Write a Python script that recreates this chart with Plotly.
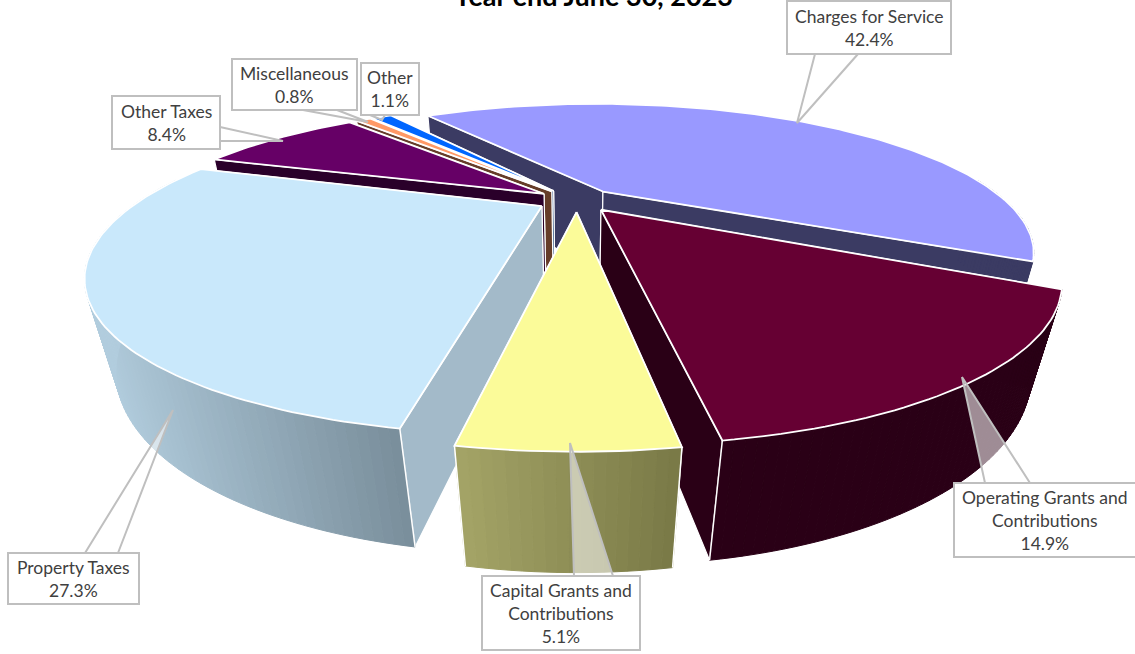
import math
import plotly.graph_objects as go

categories = ["Charges for Service", "Operating Grants and Contributions", "Capital Grants and Contributions",
              "Property Taxes", "Other Taxes", "Miscellaneous", "Other"]
values = [42.4, 14.9, 5.1, 27.3, 8.4, 0.8, 1.1]
title_text = "Year end June 30, 2023"
label_text = ["Charges for Service<br>42.4%", "Operating Grants and<br>Contributions<br>14.9%",
              "Capital Grants and<br>Contributions<br>5.1%", "Property Taxes<br>27.3%",
              "Other Taxes<br>8.4%", "Miscellaneous<br>0.8%", "Other<br>1.1%"]

top_colors = ["#9999ff", "#660033", "#fbfb99", "#c9e8fb", "#660066", "#ff9966", "#0066ff"]
face_colors = ["#3b3b63", "#2a0016", "#8a8a50", "#a3bac9", "#2a002a", "#663d29", "#002966"]
wall_left = [(59, 59, 99), (42, 0, 22), (163, 163, 102), (178, 205, 222), (42, 0, 42), (102, 61, 41), (0, 41, 102)]
wall_right = [(59, 59, 99), (42, 0, 22), (122, 122, 71), (122, 143, 156), (42, 0, 42), (102, 61, 41), (0, 41, 102)]
paint_order = [0, 6, 5, 4, 3, 1, 2]

# label boxes: x0, y0, x1, y1; callout: tip, base-a, base-b
boxes = [(787, 1, 951, 54), (954, 483, 1140, 557), (482, 576, 640, 650), (8, 553, 139, 604),
         (112, 96, 220, 149), (232, 59, 357, 110), (361, 63, 419, 115)]
callouts = [((797, 123), (815, 54), (858, 54)), ((962, 377), (985, 483), (1030, 483)),
            ((570, 443), (574, 576), (613, 576)), ((173, 410), (85, 553), (118, 553)),
            ((283, 141), (220, 127), (220, 141)), ((368, 122), (303, 110), (337, 110)),
            ((382, 120), (370, 115), (385, 115))]

CX, CY, RX, RY, K, M, H, EX, EZ, A0 = 577, 200, 402, 129, 0.405, 0.055, 88, 0.10, 0.09, -34.8


def proj(x, z, y=0.0):
    d = 1 - K * z + M * y
    return CX + RX * x / d, CY + (RY * z + H * y) / d


def fill(fig, pts, color, line="#ffffff", width=1.2):
    fig.add_trace(go.Scatter(x=[p[0] for p in pts] + [pts[0][0]], y=[p[1] for p in pts] + [pts[0][1]],
                             mode="lines", fill="toself", fillcolor=color,
                             line=dict(color=line, width=width), hoverinfo="skip", showlegend=False))


fig = go.Figure()
total = sum(values)
starts = []
a = A0
for v in values:
    starts.append(a)
    a += v / total * 360

for i in paint_order:
    a0 = starts[i]
    a1 = a0 + values[i] / total * 360
    mid = math.radians((a0 + a1) / 2)
    ox, oz = EX * math.sin(mid), -EZ * math.cos(mid)
    n = max(4, int(a1 - a0))
    thetas = [math.radians(a0 + (a1 - a0) * j / n) for j in range(n + 1)]
    rim = [(ox + math.sin(t), oz - math.cos(t)) for t in thetas]
    top = [proj(x, z) for x, z in rim]
    bot = [proj(x, z, 1) for x, z in rim]
    apex_t, apex_b = proj(ox, oz), proj(ox, oz, 1)
    # radial cut faces, farther one first
    for idx in sorted((0, n), key=lambda q: rim[q][1]):
        fill(fig, [apex_t, top[idx], bot[idx], apex_b], face_colors[i])
    # outer wall with a left-to-right shade
    front = [j for j in range(n) if rim[j][1] > -0.15 or rim[j + 1][1] > -0.15]
    if front:
        xs = [top[j][0] for j in front]
        lo, hi = min(xs), max(xs)
        for j in front:
            f = (top[j][0] - lo) / max(hi - lo, 1)
            c = tuple(round(wall_left[i][q] + (wall_right[i][q] - wall_left[i][q]) * f) for q in range(3))
            col = "rgb(%d,%d,%d)" % c
            fill(fig, [top[j], top[j + 1], bot[j + 1], bot[j]], col, line=col, width=1.0)
        # white corner edges, only on the corners that face the viewer
        for j in (0, n):
            if rim[j][1] > 0.7:
                fig.add_trace(go.Scatter(x=[top[j][0], bot[j][0]], y=[top[j][1], bot[j][1]], mode="lines",
                                         line=dict(color="#ffffff", width=1.5), hoverinfo="skip", showlegend=False))
    fill(fig, [apex_t] + top, top_colors[i], width=1.8)

for tip, a_, b_ in callouts:
    fig.add_trace(go.Scatter(x=[a_[0], tip[0], b_[0]], y=[a_[1], tip[1], b_[1]], mode="lines", fill="toself",
                             fillcolor="rgba(255,255,255,0.55)", line=dict(color="#bfbfbf", width=2),
                             hoverinfo="skip", showlegend=False))

shapes = [dict(type="rect", x0=b[0], y0=b[1], x1=b[2], y1=b[3], xref="x", yref="y", layer="above",
               fillcolor="#ffffff", line=dict(color="#bfbfbf", width=2)) for b in boxes]
annotations = []
for b, t in zip(boxes, label_text):
    xc = (b[0] + b[2]) / 2 if b[2] < 1135 else 1045
    annotations.append(dict(x=xc, y=(b[1] + b[3]) / 2, xref="x", yref="y", text=t, showarrow=False,
                            font=dict(family="Lato", size=17.5, color="#404040"), align="center",
                            xanchor="center", yanchor="middle"))
annotations.append(dict(x=593, y=14, xref="x", yref="y", text="<b>%s</b>" % title_text, showarrow=False,
                        font=dict(family="Lato", size=27, color="#000000"), xanchor="center", yanchor="bottom"))

fig.update_layout(width=1135, height=654, margin=dict(l=0, r=0, t=0, b=0), paper_bgcolor="#ffffff",
                  plot_bgcolor="#ffffff", showlegend=False, shapes=shapes, annotations=annotations,
                  xaxis=dict(range=[0, 1135], visible=False, fixedrange=True),
                  yaxis=dict(range=[654, 0], visible=False, fixedrange=True))
fig.write_html("out.html", config=dict(displayModeBar=False),
               post_script="document.body.style.margin='0';")
